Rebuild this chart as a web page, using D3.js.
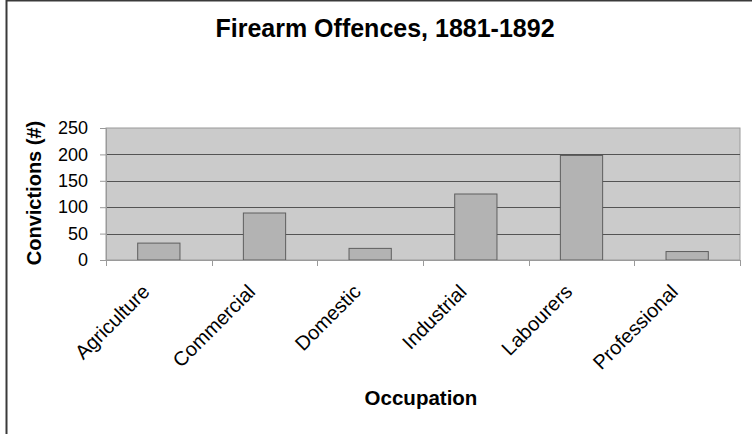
<!DOCTYPE html>
<html>
<head>
<meta charset="utf-8">
<script src="https://cdn.jsdelivr.net/npm/d3@7"></script>
<style>
  body { margin: 0; background: #fff; }
  text { font-family: "Liberation Sans", Arial, sans-serif; fill: #000; }
</style>
</head>
<body>
<svg id="chart" width="752" height="434"></svg>
<script>
// occupations and convictions
var occupations = ["Agriculture", "Commercial", "Domestic", "Industrial", "Labourers", "Professional"];
var convictions = [32, 89, 22, 125, 198, 16];
var yTicks = [0, 50, 100, 150, 200, 250];

var colors = {
    plotBg: "#cbcbcb",
    bar: "#b3b3b3",
    barStroke: "#5e5e5e",
    grid: "#545454",
    axis: "#9a9a9a",
    frame: "#3a3a3a"
};

var plot = { left: 106, right: 740, top: 128, bottom: 260 };

var svg = d3.select("#chart");

// outer frame (only top and left edges fall inside the picture)
svg.append("rect")
    .attr("x", 6.5).attr("y", 0.5)
    .attr("width", 800).attr("height", 500)
    .attr("fill", "none")
    .attr("stroke", colors.frame)
    .attr("stroke-width", 2);

var x = d3.scaleBand()
    .domain(occupations)
    .range([plot.left, plot.right])
    .paddingInner(0).paddingOuter(0);

var y = d3.scaleLinear()
    .domain([0, 250])
    .range([plot.bottom, plot.top]);

// plot area background
svg.append("rect")
    .attr("x", plot.left).attr("y", plot.top)
    .attr("width", plot.right - plot.left)
    .attr("height", plot.bottom - plot.top)
    .attr("fill", colors.plotBg)
    .attr("stroke", colors.axis)
    .attr("stroke-width", 1);

// gridlines
svg.append("g")
    .selectAll("line")
    .data(yTicks.filter(function (d) { return d > 0 && d < 250; }))
    .enter().append("line")
        .attr("x1", plot.left).attr("x2", plot.right)
        .attr("y1", function (d) { return Math.round(y(d)) + 0.5; })
        .attr("y2", function (d) { return Math.round(y(d)) + 0.5; })
        .attr("stroke", colors.grid)
        .attr("stroke-width", 1);

// bars, 40% of the category width
var barW = x.bandwidth() * 0.4;
svg.append("g")
    .selectAll("rect")
    .data(convictions)
    .enter().append("rect")
        .attr("x", function (d, i) { return x(occupations[i]) + (x.bandwidth() - barW) / 2; })
        .attr("y", function (d) { return y(d); })
        .attr("width", barW)
        .attr("height", function (d) { return y(0) - y(d); })
        .attr("fill", colors.bar)
        .attr("stroke", colors.barStroke)
        .attr("stroke-width", 1);

// y axis
var yAxis = svg.append("g")
    .attr("transform", "translate(" + plot.left + ",0)")
    .call(d3.axisLeft(y).tickValues(yTicks).tickSize(6).tickPadding(12));
yAxis.select(".domain").attr("stroke", colors.axis);
yAxis.selectAll(".tick line").attr("stroke", colors.axis);
yAxis.selectAll(".tick text")
    .attr("font-size", "18px")
    .attr("font-family", "Liberation Sans, Arial, sans-serif")
    .attr("fill", "#000");

// x axis: ticks on category boundaries
var xAxisG = svg.append("g");
xAxisG.append("line")
    .attr("x1", plot.left).attr("x2", plot.right)
    .attr("y1", plot.bottom + 0.5).attr("y2", plot.bottom + 0.5)
    .attr("stroke", colors.axis);
var bounds = occupations.map(function (d) { return x(d); }).concat([plot.right]);
xAxisG.selectAll(".bnd")
    .data(bounds)
    .enter().append("line")
        .attr("x1", function (d) { return Math.round(d) + 0.5; })
        .attr("x2", function (d) { return Math.round(d) + 0.5; })
        .attr("y1", plot.bottom).attr("y2", plot.bottom + 6)
        .attr("stroke", colors.axis);

xAxisG.selectAll(".lbl")
    .data(occupations)
    .enter().append("text")
        .attr("transform", function (d) {
            var cx = x(d) + x.bandwidth() / 2 - 8;
            return "translate(" + cx + "," + (plot.bottom + 33) + ") rotate(-45)";
        })
        .attr("text-anchor", "end")
        .attr("font-size", "20px")
        .text(function (d) { return d; });

// title and axis labels
svg.append("text")
    .attr("x", 385).attr("y", 37)
    .attr("text-anchor", "middle")
    .attr("font-size", "25px")
    .attr("font-weight", "bold")
    .text("Firearm Offences, 1881-1892");

svg.append("text")
    .attr("x", 421).attr("y", 405)
    .attr("text-anchor", "middle")
    .attr("font-size", "20.5px")
    .attr("font-weight", "bold")
    .text("Occupation");

svg.append("text")
    .attr("transform", "translate(41,193) rotate(-90)")
    .attr("text-anchor", "middle")
    .attr("font-size", "20px")
    .attr("font-weight", "bold")
    .text("Convictions (#)");
</script>
</body>
</html>
